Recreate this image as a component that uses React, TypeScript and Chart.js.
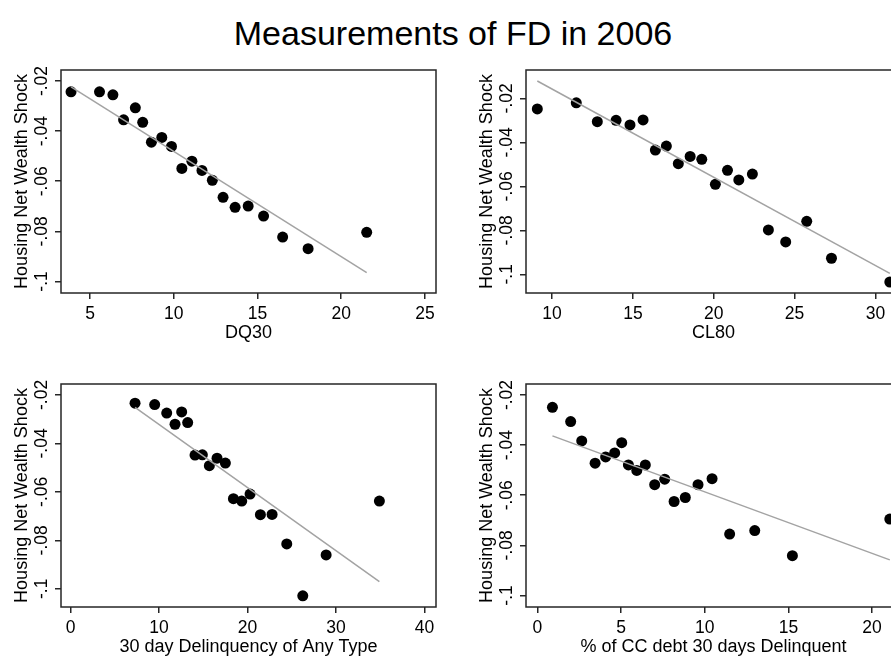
import React, { useEffect, useRef } from "react";
import { Chart, registerables } from "chart.js";

Chart.register(...registerables);

const chartTitle = "Measurements of FD in 2006";
const yTitle = "Housing Net Wealth Shock";
const yTickValues = [-0.1, -0.08, -0.06, -0.04, -0.02];
const yTickLabels = ["-.1", "-.08", "-.06", "-.04", "-.02"];

// Panel 1: DQ30
const dq30X = [3.86, 5.56, 6.36, 7.0, 7.7, 8.14, 8.66, 9.28, 9.86, 10.48, 11.08, 11.68, 12.3, 12.94, 13.66, 14.44, 15.36, 16.5, 18.02, 21.52];
const dq30Y = [-0.0243, -0.0243, -0.0255, -0.0355, -0.0307, -0.0365, -0.0444, -0.0425, -0.0461, -0.0549, -0.052, -0.0557, -0.0596, -0.0664, -0.0704, -0.0699, -0.0739, -0.0823, -0.0869, -0.0804];
const dq30FitX = [3.86, 21.52];
const dq30FitY = [-0.0223, -0.0965];
const dq30Ticks = [5, 10, 15, 20, 25];

// Panel 2: CL80
const cl80X = [9.09, 11.5, 12.8, 13.96, 14.82, 15.63, 16.39, 17.07, 17.81, 18.54, 19.26, 20.1, 20.85, 21.55, 22.39, 23.38, 24.45, 25.75, 27.28, 30.89];
const cl80Y = [-0.0248, -0.022, -0.0306, -0.03, -0.0321, -0.0298, -0.0435, -0.0417, -0.0497, -0.0464, -0.0477, -0.0591, -0.0527, -0.0571, -0.0544, -0.0798, -0.0853, -0.0759, -0.0927, -0.1035];
const cl80FitX = [9.09, 30.89];
const cl80FitY = [-0.0121, -0.0996];
const cl80Ticks = [10, 15, 20, 25, 30];

// Panel 3: 30 day Delinquency of Any Type
const anyX = [7.28, 9.5, 10.86, 11.8, 12.55, 13.23, 14.06, 14.89, 15.68, 16.55, 17.49, 18.4, 19.34, 20.28, 21.45, 22.77, 24.43, 26.24, 28.88, 34.9];
const anyY = [-0.0234, -0.024, -0.0275, -0.0321, -0.027, -0.0314, -0.0448, -0.0447, -0.0492, -0.0461, -0.0481, -0.0628, -0.0638, -0.0609, -0.0694, -0.0693, -0.0815, -0.1029, -0.086, -0.0638];
const anyFitX = [7.28, 34.9];
const anyFitY = [-0.0251, -0.097];
const anyTicks = [0, 10, 20, 30, 40];

// Panel 4: % of CC debt 30 days Delinquent
const ccX = [0.9, 1.99, 2.65, 3.45, 4.08, 4.62, 5.04, 5.44, 5.94, 6.45, 7.01, 7.61, 8.17, 8.84, 9.6, 10.44, 11.49, 12.99, 15.24, 21.06];
const ccY = [-0.0249, -0.0306, -0.0383, -0.0472, -0.0447, -0.0431, -0.039, -0.0479, -0.0501, -0.0479, -0.0558, -0.0536, -0.0625, -0.0609, -0.0558, -0.0534, -0.0755, -0.0741, -0.0841, -0.0695];
const ccFitX = [0.9, 21.06];
const ccFitY = [-0.0363, -0.0858];
const ccTicks = [0, 5, 10, 15, 20];

const FONT = '"Liberation Sans", Arial, Helvetica, sans-serif';
const INK = "#000";
const FRAME = "#262626";

const framePlugin = {
  id: "frame",
  afterDraw(chart: any) {
    const { ctx, chartArea } = chart;
    ctx.save();
    ctx.strokeStyle = FRAME;
    ctx.lineWidth = 1.5;
    ctx.strokeRect(chartArea.left, chartArea.top, chartArea.right - chartArea.left, chartArea.bottom - chartArea.top);
    ctx.restore();
  },
};

const yLabelPlugin = {
  id: "ylabels",
  afterDraw(chart: any) {
    const { ctx } = chart;
    const ys = chart.scales.y;
    ctx.save();
    ctx.font = `17.5px ${FONT}`;
    ctx.fillStyle = INK;
    ctx.textAlign = "center";
    ctx.textBaseline = "middle";
    yTickValues.forEach((v, i) => {
      const py = ys.getPixelForValue(v);
      ctx.save();
      ctx.translate(42, py);
      ctx.rotate(-Math.PI / 2);
      ctx.fillText(yTickLabels[i], 0, 0);
      ctx.restore();
    });
    ctx.restore();
  },
};

type PanelProps = {
  xs: number[];
  ys: number[];
  fitX: number[];
  fitY: number[];
  xTicks: number[];
  xMin: number;
  xMax: number;
  yMin: number;
  yMax: number;
  xTitle: string;
  left: number;
  top: number;
};

function Panel(p: PanelProps) {
  const ref = useRef<HTMLCanvasElement>(null);
  useEffect(() => {
    const chart = new Chart(ref.current as HTMLCanvasElement, {
      type: "scatter",
      data: {
        datasets: [
          {
            data: p.fitX.map((x, i) => ({ x, y: p.fitY[i] })),
            showLine: true,
            borderColor: "#a3a3a3",
            borderWidth: 1.5,
            pointRadius: 0,
            order: 1,
          },
          {
            data: p.xs.map((x, i) => ({ x, y: p.ys[i] })),
            pointRadius: 5.5,
            backgroundColor: "#000",
            borderWidth: 0,
            order: 2,
          },
        ],
      },
      options: {
        responsive: false,
        animation: false,
        events: [],
        layout: { padding: { top: 15, right: 29, left: 0, bottom: 0 } },
        plugins: { legend: { display: false }, tooltip: { enabled: false } },
        scales: {
          x: {
            type: "linear",
            min: p.xMin,
            max: p.xMax,
            afterBuildTicks: (s: any) => {
              s.ticks = p.xTicks.map((v) => ({ value: v }));
            },
            afterFit: (s: any) => {
              s.height = 76;
            },
            grid: { drawOnChartArea: false, drawTicks: true, tickLength: 6, color: FRAME, lineWidth: 1.5 },
            border: { display: false },
            ticks: {
              color: INK,
              font: { family: FONT, size: 17.5 },
              padding: 5,
              maxRotation: 0,
              autoSkip: false,
              callback: (v: any) => String(v),
            },
            title: {
              display: true,
              text: p.xTitle,
              color: INK,
              font: { family: FONT, size: 18 },
              padding: { top: 0, bottom: 25 },
            },
          },
          y: {
            type: "linear",
            min: p.yMin,
            max: p.yMax,
            afterBuildTicks: (s: any) => {
              s.ticks = yTickValues.map((v) => ({ value: v }));
            },
            afterFit: (s: any) => {
              s.width = 61;
            },
            grid: { drawOnChartArea: false, drawTicks: true, tickLength: 6, color: FRAME, lineWidth: 1.5 },
            border: { display: false },
            ticks: { display: false },
            title: {
              display: true,
              text: yTitle,
              color: INK,
              font: { family: FONT, size: 18 },
              padding: { top: 11, bottom: 0 },
            },
          },
        },
      },
      plugins: [framePlugin, yLabelPlugin],
    } as any);
    return () => chart.destroy();
  }, []);
  return (
    <canvas
      ref={ref}
      width={465}
      height={314}
      style={{ position: "absolute", left: p.left, top: p.top, width: 465, height: 314 }}
    />
  );
}

export default function App() {
  return (
    <div
      style={{
        position: "fixed",
        left: 0,
        top: 0,
        width: 891,
        height: 657,
        overflow: "hidden",
        background: "#fff",
      }}
    >
      <div
        style={{
          position: "absolute",
          left: 0,
          top: 16,
          width: 906,
          textAlign: "center",
          fontFamily: FONT,
          fontSize: 34,
          lineHeight: "34px",
          color: INK,
          whiteSpace: "nowrap",
        }}
      >
        {chartTitle}
      </div>
      <Panel xs={dq30X} ys={dq30Y} fitX={dq30FitX} fitY={dq30FitY} xTicks={dq30Ticks}
        xMin={3.26} xMax={25.66} yMin={-0.1046} yMax={-0.0156} xTitle="DQ30" left={0} top={55} />
      <Panel xs={cl80X} ys={cl80Y} fitX={cl80FitX} fitY={cl80FitY} xTicks={cl80Ticks}
        xMin={8.39} xMax={31.58} yMin={-0.1085} yMax={-0.0071} xTitle="CL80" left={465} top={55} />
      <Panel xs={anyX} ys={anyY} fitX={anyFitX} fitY={anyFitY} xTicks={anyTicks}
        xMin={-1.09} xMax={41.3} yMin={-0.1075} yMax={-0.0155} xTitle="30 day Delinquency of Any Type" left={0} top={369} />
      <Panel xs={ccX} ys={ccY} fitX={ccFitX} fitY={ccFitY} xTicks={ccTicks}
        xMin={-0.68} xMax={21.73} yMin={-0.1046} yMax={-0.0156} xTitle="% of CC debt 30 days Delinquent" left={465} top={369} />
    </div>
  );
}
